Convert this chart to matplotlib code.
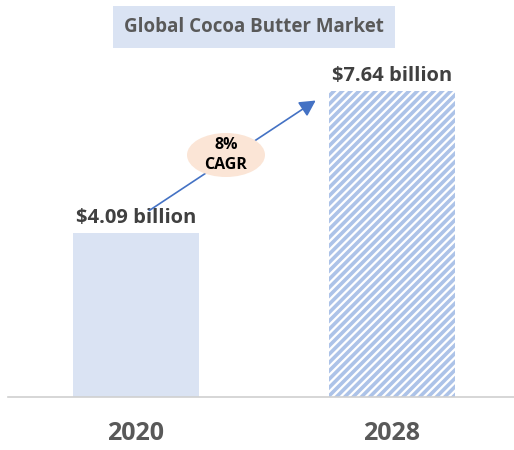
import matplotlib.pyplot as plt
from matplotlib.patches import Ellipse, FancyArrowPatch

years = ["2020", "2028"]
values = [4.09, 7.64]
value_labels = ["$4.09 billion", "$7.64 billion"]
title = "Global Cocoa Butter Market"
cagr_text = "8%\nCAGR"

plt.rcParams['font.family'] = ['Open Sans', 'DejaVu Sans']
plt.rcParams['hatch.linewidth'] = 2.6
plt.rcParams['hatch.color'] = '#adc3e8'

fig = plt.figure(figsize=(5.14, 4.5), dpi=100)
ax = fig.add_axes([8 / 514, 1 - 397 / 450, 1 - 8 / 514, (397 - 40) / 450])

x = list(range(len(years)))
bars = ax.bar(x, values, width=0.49, color=['#dae3f3', 'white'], edgecolor='none')
bars[1].set_hatch('////')
bars[1].set_edgecolor('#adc3e8')
bars[1].set_linewidth(0)

ax.set_xlim(-0.5, 1.477)
ax.set_ylim(0, 8.925)

for xi, v, lab in zip(x, values, value_labels):
    ax.annotate(lab, (xi, v), xytext=(0, 4), textcoords='offset points',
                ha='center', va='bottom', fontsize=14.5, fontweight='bold', color='#404040')

ax.set_xticks(x)
ax.set_xticklabels(years, fontsize=18, fontweight='bold', color='#595959')
ax.tick_params(axis='x', length=0, pad=17)
ax.set_yticks([])
for s in ['top', 'right', 'left']:
    ax.spines[s].set_visible(False)
ax.spines['bottom'].set_color('#d0d0d0')
ax.spines['bottom'].set_linewidth(1.2)

# title box
fig.text(254 / 514, 1 - 27 / 450, title, ha='center', va='center', fontsize=13.5,
         fontweight='bold', color='#595959',
         bbox=dict(boxstyle='square,pad=0.6', facecolor='#dae3f3', edgecolor='none'))

# CAGR arrow and bubble
fig.add_artist(FancyArrowPatch(
    (147 / 514, 1 - 212 / 450), (318 / 514, 1 - 99 / 450), transform=fig.transFigure,
    arrowstyle='-|>,head_length=6,head_width=3.2', mutation_scale=1.6,
    color='#4472c4', linewidth=1.2))
fig.add_artist(Ellipse((226 / 514, 1 - 155 / 450), 78 / 514, 44 / 450,
                       transform=fig.transFigure, facecolor='#fbe5d6', edgecolor='none'))
fig.text(226 / 514, 1 - 155 / 450, cagr_text, ha='center', va='center', fontsize=11.5,
         fontweight='bold', color='black', linespacing=1.35)

fig.savefig("out.png", dpi=100)
